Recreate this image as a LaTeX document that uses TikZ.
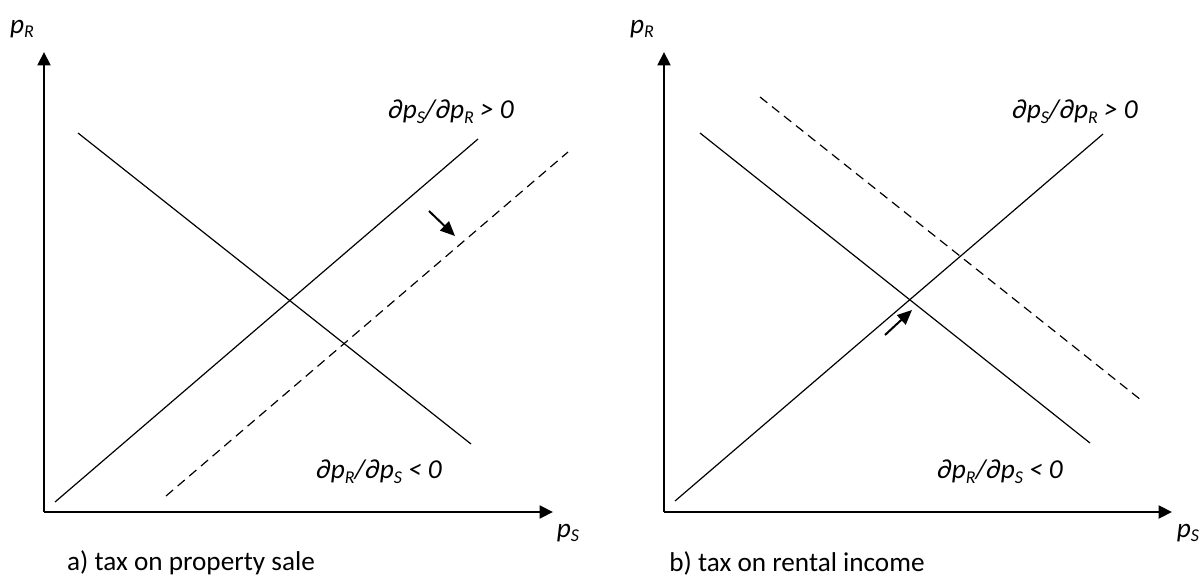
\documentclass[tikz,border=0pt]{standalone}
\usepackage{fontspec}
\setmainfont{Carlito}
\usetikzlibrary{arrows.meta}
\newcommand{\sbs}[1]{\raisebox{-0.35ex}{\fontsize{13.5}{14}\selectfont #1}}
\begin{document}
\begin{tikzpicture}[x=0.75pt,y=-0.75pt,
  axis/.style={line width=2.2pt,-{Triangle[length=10pt,width=9.5pt]}},
  curve/.style={line width=0.9pt},
  dashcurve/.style={line width=0.9pt,dash pattern=on 7pt off 4.5pt},
  shiftarrow/.style={line width=1.5pt,-{Triangle[length=11pt,width=9.5pt]}},
  lbl/.style={font=\fontsize{20.5}{24}\selectfont\itshape, inner sep=0pt},
  captext/.style={font=\fontsize{20.4}{24}\selectfont, inner sep=0pt}]
\useasboundingbox (0,0) rectangle (1204,582);
% ---------- panel a ----------
\coordinate (oa) at (44,512);
\coordinate (ya) at (44,52);
\coordinate (xa) at (553,512);
\draw[axis] (oa) -- (ya);
\draw[axis] (oa) -- (xa);
\node[lbl] (pra) at (22,29) {p\sbs{R}};
\node[lbl] (psa) at (568,533) {p\sbs{S}};
\coordinate (sa1) at (55,502);
\coordinate (sa2) at (478,139);
\draw[curve] (sa1) -- (sa2);
\coordinate (da1) at (78,133);
\coordinate (da2) at (471,444);
\draw[curve] (da1) -- (da2);
\coordinate (ta1) at (166,496);
\coordinate (ta2) at (568,152);
\draw[dashcurve] (ta1) -- (ta2);
\coordinate (aa1) at (429,211);
\coordinate (aa2) at (455,236);
\draw[shiftarrow] (aa1) -- (aa2);
\node[lbl] (la1) at (451,112) {∂p\sbs{S}/∂p\sbs{R} > 0};
\node[lbl] (la2) at (379,472) {∂p\sbs{R}/∂p\sbs{S} < 0};
\node[captext] (capa) at (191,563) {a) tax on property sale};
% ---------- panel b ----------
\coordinate (ob) at (664,512);
\coordinate (yb) at (664,52);
\coordinate (xb) at (1172,512);
\draw[axis] (ob) -- (yb);
\draw[axis] (ob) -- (xb);
\node[lbl] (prb) at (642,29) {p\sbs{R}};
\node[lbl] (psb) at (1188,533) {p\sbs{S}};
\coordinate (sb1) at (675,501);
\coordinate (sb2) at (1103,134);
\draw[curve] (sb1) -- (sb2);
\coordinate (db1) at (700,133);
\coordinate (db2) at (1090,443);
\draw[curve] (db1) -- (db2);
\coordinate (tb1) at (760,97);
\coordinate (tb2) at (1141,400);
\draw[dashcurve] (tb1) -- (tb2);
\coordinate (ab1) at (885,335);
\coordinate (ab2) at (912,310);
\draw[shiftarrow] (ab1) -- (ab2);
\node[lbl] (lb1) at (1075,112) {∂p\sbs{S}/∂p\sbs{R} > 0};
\node[lbl] (lb2) at (1000,472) {∂p\sbs{R}/∂p\sbs{S} < 0};
\node[captext] (capb) at (797,563) {b) tax on rental income};
\end{tikzpicture}
\end{document}
